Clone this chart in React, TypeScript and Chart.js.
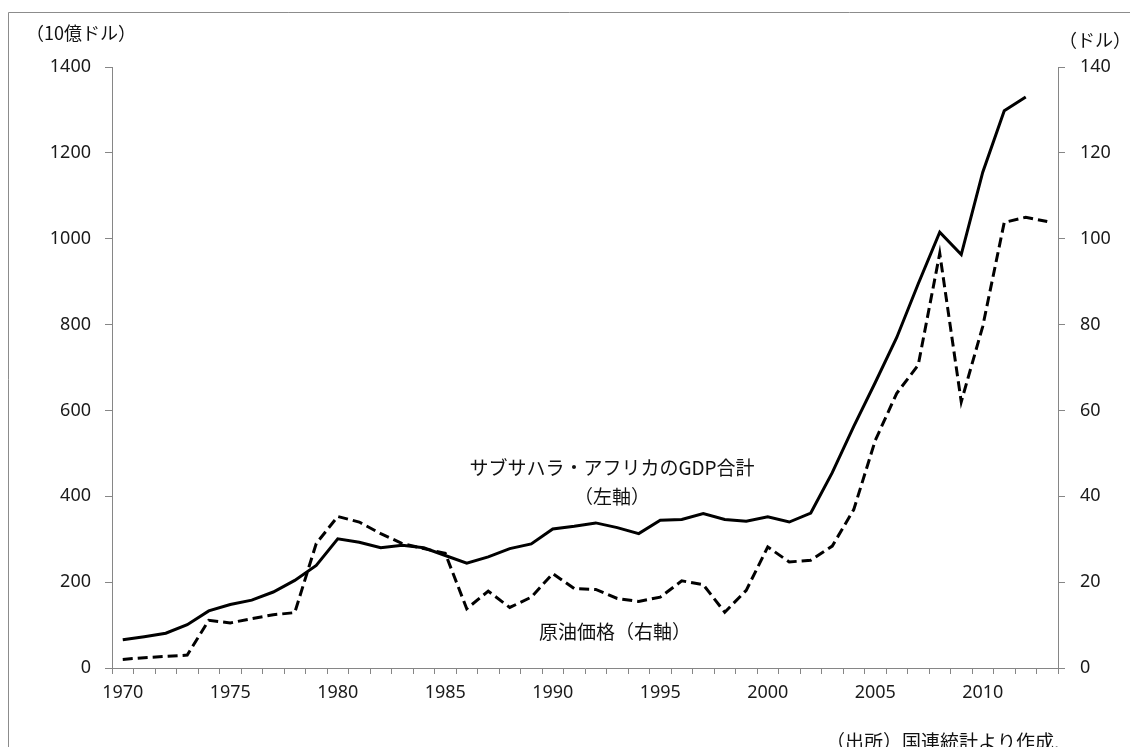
import React, { useEffect, useRef } from "react";
import { Chart, registerables } from "chart.js";

Chart.register(...registerables);

const years: string[] = [
  "1970", "1971", "1972", "1973", "1974", "1975", "1976", "1977", "1978", "1979",
  "1980", "1981", "1982", "1983", "1984", "1985", "1986", "1987", "1988", "1989",
  "1990", "1991", "1992", "1993", "1994", "1995", "1996", "1997", "1998", "1999",
  "2000", "2001", "2002", "2003", "2004", "2005", "2006", "2007", "2008", "2009",
  "2010", "2011", "2012", "2013",
];

// サブサハラ・アフリカのGDP合計（10億ドル, 左軸）
const gdpTotal: (number | null)[] = [
  66, 73, 81, 101, 133, 148, 158, 177, 204, 239,
  301, 293, 280, 286, 280, 262, 244, 259, 278, 289,
  324, 330, 338, 327, 313, 344, 346, 360, 346, 342,
  352, 340, 361, 455, 563, 665, 770, 895, 1015, 963,
  1155, 1298, 1330, null,
];

// 原油価格（ドル, 右軸）
const oilPrice: number[] = [
  2.0, 2.4, 2.7, 3.0, 11.1, 10.5, 11.5, 12.4, 12.9, 29.0,
  35.3, 34.0, 31.3, 29.0, 27.8, 26.7, 13.8, 17.9, 14.1, 16.5,
  22.0, 18.5, 18.3, 16.2, 15.5, 16.5, 20.3, 19.4, 13.0, 18.1,
  28.2, 24.7, 25.1, 28.4, 36.9, 53.0, 64.0, 70.6, 96.6, 62.0,
  79.6, 103.8, 105.0, 104.0,
];

const leftTitle = "（10億ドル）";
const rightTitle = "（ドル）";
const gdpLabel = "サブサハラ・アフリカのGDP合計";
const gdpAxisNote = "（左軸）";
const oilLabel = "原油価格（右軸）";
const sourceNote = "（出所）国連統計より作成.";

const FONT = '"Noto Sans CJK JP", "Noto Sans", sans-serif';
const NUMFONT = '"Noto Sans", "Noto Sans CJK JP", sans-serif';
const AXIS = "#868686";
const TXT = "#1a1a1a";

const overlay = {
  id: "overlay",
  beforeDraw(chart: any) {
    const ctx = chart.ctx;
    ctx.save();
    ctx.fillStyle = "#ffffff";
    ctx.fillRect(0, 0, chart.width, chart.height);
    ctx.restore();
  },
  afterDraw(chart: any) {
    const ctx = chart.ctx;
    ctx.save();
    ctx.strokeStyle = "#8c8c8c";
    ctx.lineWidth = 1;
    ctx.beginPath();
    ctx.moveTo(8.5, chart.height);
    ctx.lineTo(8.5, 12.5);
    ctx.lineTo(chart.width, 12.5);
    ctx.stroke();

    ctx.fillStyle = "#111111";
    ctx.textBaseline = "middle";
    ctx.textAlign = "center";
    ctx.font = `19px ${FONT}`;
    ctx.fillText(gdpLabel, 612, 468);
    ctx.fillText(gdpAxisNote, 612, 497);
    ctx.fillText(oilLabel, 615, 632);
    ctx.font = `18px ${FONT}`;
    ctx.fillText(leftTitle, 81, 33);
    ctx.fillText(rightTitle, 1095, 40);
    ctx.textAlign = "left";
    ctx.font = `19px ${FONT}`;
    ctx.fillText(sourceNote, 826, 742);
    ctx.restore();
  },
};

export default function App() {
  const ref = useRef<HTMLCanvasElement | null>(null);

  useEffect(() => {
    if (!ref.current) return;
    const tickFont = { family: NUMFONT, size: 18 };
    const plain = (v: any) => String(v);
    const chart = new Chart(ref.current, {
      type: "line",
      data: {
        labels: years,
        datasets: [
          {
            label: gdpLabel,
            data: gdpTotal,
            yAxisID: "y",
            borderColor: "#000000",
            borderWidth: 3,
            pointRadius: 0,
            tension: 0,
            fill: false,
            spanGaps: false,
          },
          {
            label: oilLabel,
            data: oilPrice,
            yAxisID: "y1",
            borderColor: "#000000",
            borderWidth: 3,
            borderDash: [10, 5],
            pointRadius: 0,
            tension: 0,
            fill: false,
          },
        ],
      },
      options: {
        responsive: false,
        animation: false,
        events: [],
        layout: { padding: { top: 67, left: 0, right: 0, bottom: 0 } },
        plugins: {
          legend: { display: false },
          title: { display: false },
          tooltip: { enabled: false },
        },
        scales: {
          x: {
            type: "category",
            offset: true,
            grid: {
              offset: true,
              drawOnChartArea: false,
              drawTicks: true,
              tickLength: 6,
              color: AXIS,
              lineWidth: 1,
            },
            border: { display: true, color: AXIS, width: 1 },
            ticks: {
              autoSkip: false,
              maxRotation: 0,
              minRotation: 0,
              padding: 8,
              color: TXT,
              font: tickFont,
              callback: (_v: any, i: number) =>
                Number(years[i]) % 5 === 0 ? years[i] : "",
            },
            afterFit: (s: any) => {
              s.height = 79;
            },
          },
          y: {
            position: "left",
            min: 0,
            max: 1400,
            grid: {
              drawOnChartArea: false,
              drawTicks: true,
              tickLength: 7,
              color: AXIS,
            },
            border: { display: true, color: AXIS, width: 1 },
            ticks: { stepSize: 200, padding: 14, color: TXT, font: tickFont, callback: plain },
            afterFit: (s: any) => {
              s.width = 112;
            },
          },
          y1: {
            position: "right",
            min: 0,
            max: 140,
            grid: {
              drawOnChartArea: false,
              drawTicks: true,
              tickLength: 7,
              color: AXIS,
            },
            border: { display: true, color: AXIS, width: 1 },
            ticks: { stepSize: 20, padding: 15, color: TXT, font: tickFont, callback: plain },
            afterFit: (s: any) => {
              s.width = 72;
            },
          },
        },
      },
      plugins: [overlay],
    });
    return () => chart.destroy();
  }, []);

  return (
    <div style={{ position: "fixed", left: 0, top: 0, width: 1130, height: 747, overflow: "hidden" }}>
      <canvas ref={ref} width={1130} height={747} style={{ display: "block", width: 1130, height: 747 }} />
    </div>
  );
}
